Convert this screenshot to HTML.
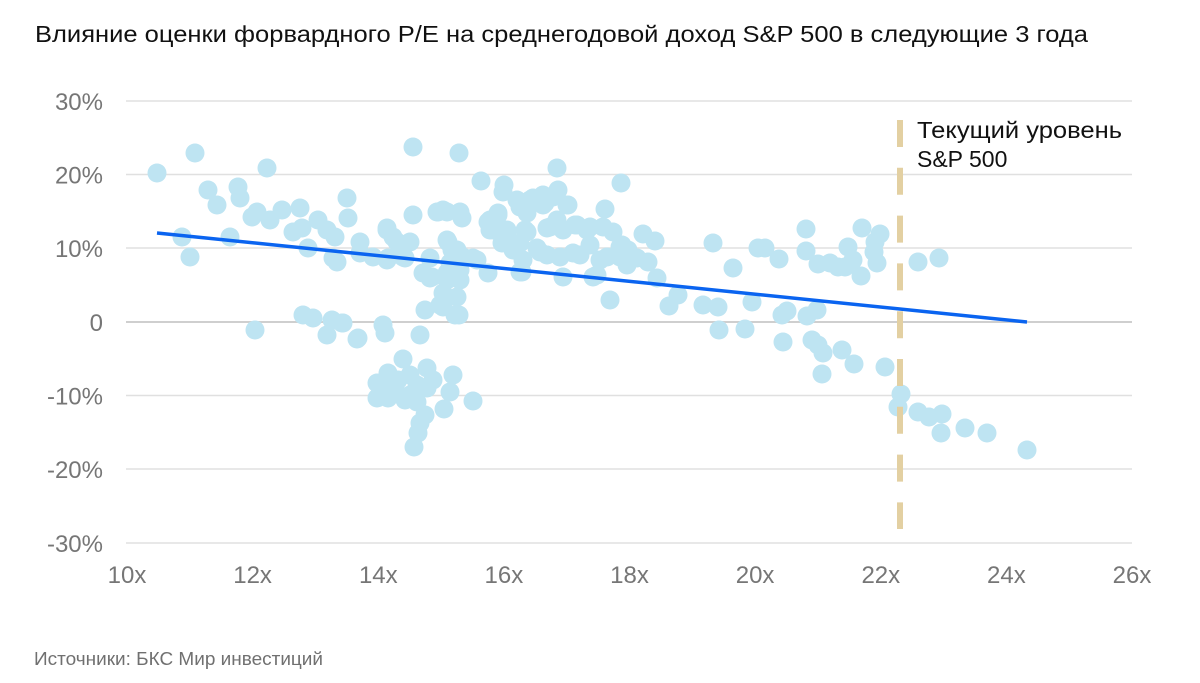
<!DOCTYPE html>
<html>
<head>
<meta charset="utf-8">
<style>
html,body{margin:0;padding:0;background:#fff;}
svg{display:block;}
text{font-family:"Liberation Sans","Noto Sans CJK SC",sans-serif;}
</style>
</head>
<body>
<svg width="1200" height="683" viewBox="0 0 1200 683" xmlns="http://www.w3.org/2000/svg">
<rect width="1200" height="683" fill="#fff"/>
<text x="35" y="42" font-size="23" fill="#111" textLength="1053" lengthAdjust="spacingAndGlyphs">Влияние оценки форвардного P/E на среднегодовой доход S&amp;P 500 в следующие 3 года</text>

<g stroke="#e0e0e0" stroke-width="1.5">
<line x1="126" y1="101" x2="1132" y2="101"/>
<line x1="126" y1="174.5" x2="1132" y2="174.5"/>
<line x1="126" y1="248" x2="1132" y2="248"/>
<line x1="126" y1="395.5" x2="1132" y2="395.5"/>
<line x1="126" y1="469" x2="1132" y2="469"/>
<line x1="126" y1="543" x2="1132" y2="543"/>
</g>
<line x1="126" y1="322" x2="1132" y2="322" stroke="#cfcfcf" stroke-width="2"/>

<g font-size="24" fill="#767676" text-anchor="end">
<text x="103" y="110">30%</text>
<text x="103" y="183.5">20%</text>
<text x="103" y="257">10%</text>
<text x="103" y="331">0</text>
<text x="103" y="404.5">-10%</text>
<text x="103" y="478">-20%</text>
<text x="103" y="552">-30%</text>
</g>
<g font-size="24" fill="#767676" text-anchor="middle">
<text x="127" y="583">10x</text>
<text x="252.6" y="583">12x</text>
<text x="378.3" y="583">14x</text>
<text x="503.9" y="583">16x</text>
<text x="629.5" y="583">18x</text>
<text x="755.1" y="583">20x</text>
<text x="880.8" y="583">22x</text>
<text x="1006.4" y="583">24x</text>
<text x="1132" y="583">26x</text>
</g>

<g fill="#bee4f2">
<circle cx="157" cy="173" r="9.5"/><circle cx="195" cy="153" r="9.5"/><circle cx="267" cy="168" r="9.5"/><circle cx="208" cy="190" r="9.5"/><circle cx="217" cy="205" r="9.5"/><circle cx="238" cy="187" r="9.5"/><circle cx="240" cy="198" r="9.5"/><circle cx="252" cy="217" r="9.5"/><circle cx="257" cy="212" r="9.5"/><circle cx="270" cy="220" r="9.5"/><circle cx="282" cy="210" r="9.5"/><circle cx="300" cy="208" r="9.5"/><circle cx="293" cy="232" r="9.5"/><circle cx="302" cy="228" r="9.5"/><circle cx="318" cy="220" r="9.5"/><circle cx="327" cy="230" r="9.5"/><circle cx="335" cy="237" r="9.5"/><circle cx="347" cy="198" r="9.5"/><circle cx="348" cy="218" r="9.5"/><circle cx="308" cy="248" r="9.5"/><circle cx="333" cy="258" r="9.5"/><circle cx="337" cy="262" r="9.5"/><circle cx="360" cy="242" r="9.5"/><circle cx="360" cy="253" r="9.5"/><circle cx="373" cy="257" r="9.5"/><circle cx="387" cy="230" r="9.5"/><circle cx="387" cy="260" r="9.5"/><circle cx="397" cy="242" r="9.5"/><circle cx="410" cy="242" r="9.5"/><circle cx="403" cy="257" r="9.5"/><circle cx="413" cy="215" r="9.5"/><circle cx="413" cy="147" r="9.5"/><circle cx="430" cy="258" r="9.5"/><circle cx="423" cy="273" r="9.5"/><circle cx="432" cy="277" r="9.5"/><circle cx="437" cy="212" r="9.5"/><circle cx="447" cy="212" r="9.5"/><circle cx="448" cy="242" r="9.5"/><circle cx="450" cy="263" r="9.5"/><circle cx="425" cy="310" r="9.5"/><circle cx="440" cy="305" r="9.5"/><circle cx="455" cy="315" r="9.5"/><circle cx="182" cy="237" r="9.5"/><circle cx="190" cy="257" r="9.5"/><circle cx="230" cy="237" r="9.5"/><circle cx="255" cy="330" r="9.5"/><circle cx="303" cy="315" r="9.5"/><circle cx="313" cy="318" r="9.5"/><circle cx="332" cy="320" r="9.5"/><circle cx="342" cy="323" r="9.5"/><circle cx="327" cy="335" r="9.5"/><circle cx="358" cy="338" r="9.5"/><circle cx="383" cy="325" r="9.5"/><circle cx="385" cy="333" r="9.5"/><circle cx="420" cy="335" r="9.5"/>
<circle cx="343" cy="323" r="9.5"/><circle cx="357" cy="339" r="9.5"/><circle cx="403" cy="359" r="9.5"/><circle cx="377" cy="383" r="9.5"/><circle cx="388" cy="373" r="9.5"/><circle cx="377" cy="398" r="9.5"/><circle cx="388" cy="398" r="9.5"/><circle cx="405" cy="400" r="9.5"/><circle cx="417" cy="402" r="9.5"/><circle cx="427" cy="368" r="9.5"/><circle cx="427" cy="388" r="9.5"/><circle cx="433" cy="380" r="9.5"/><circle cx="398" cy="380" r="9.5"/><circle cx="410" cy="375" r="9.5"/><circle cx="417" cy="385" r="9.5"/><circle cx="453" cy="375" r="9.5"/><circle cx="450" cy="392" r="9.5"/><circle cx="444" cy="409" r="9.5"/><circle cx="473" cy="401" r="9.5"/><circle cx="425" cy="415" r="9.5"/><circle cx="420" cy="423" r="9.5"/><circle cx="418" cy="433" r="9.5"/><circle cx="414" cy="447" r="9.5"/><circle cx="395" cy="390" r="9.5"/><circle cx="385" cy="385" r="9.5"/><circle cx="410" cy="395" r="9.5"/>
<circle cx="438" cy="212" r="9.5"/><circle cx="460" cy="213" r="9.5"/><circle cx="462" cy="218" r="9.5"/><circle cx="387" cy="228" r="9.5"/><circle cx="393" cy="237" r="9.5"/><circle cx="400" cy="245" r="9.5"/><circle cx="388" cy="258" r="9.5"/><circle cx="405" cy="258" r="9.5"/><circle cx="447" cy="240" r="9.5"/><circle cx="452" cy="250" r="9.5"/><circle cx="463" cy="257" r="9.5"/><circle cx="477" cy="260" r="9.5"/><circle cx="430" cy="278" r="9.5"/><circle cx="447" cy="273" r="9.5"/><circle cx="460" cy="280" r="9.5"/><circle cx="443" cy="293" r="9.5"/><circle cx="457" cy="297" r="9.5"/><circle cx="459" cy="315" r="9.5"/><circle cx="488" cy="273" r="9.5"/><circle cx="490" cy="220" r="9.5"/><circle cx="498" cy="215" r="9.5"/><circle cx="490" cy="230" r="9.5"/><circle cx="507" cy="233" r="9.5"/><circle cx="513" cy="250" r="9.5"/><circle cx="522" cy="272" r="9.5"/><circle cx="520" cy="207" r="9.5"/>
<circle cx="459" cy="153" r="9.5"/><circle cx="481" cy="181" r="9.5"/><circle cx="504" cy="185" r="9.5"/><circle cx="503" cy="192" r="9.5"/><circle cx="517" cy="200" r="9.5"/><circle cx="533" cy="198" r="9.5"/><circle cx="543" cy="195" r="9.5"/><circle cx="543" cy="205" r="9.5"/><circle cx="557" cy="168" r="9.5"/><circle cx="558" cy="190" r="9.5"/><circle cx="568" cy="205" r="9.5"/><circle cx="527" cy="213" r="9.5"/><circle cx="498" cy="213" r="9.5"/><circle cx="488" cy="222" r="9.5"/><circle cx="493" cy="230" r="9.5"/><circle cx="507" cy="230" r="9.5"/><circle cx="525" cy="230" r="9.5"/><circle cx="547" cy="228" r="9.5"/><circle cx="557" cy="220" r="9.5"/><circle cx="575" cy="225" r="9.5"/><circle cx="587" cy="230" r="9.5"/><circle cx="605" cy="209" r="9.5"/><circle cx="603" cy="227" r="9.5"/><circle cx="613" cy="232" r="9.5"/><circle cx="622" cy="245" r="9.5"/><circle cx="628" cy="250" r="9.5"/><circle cx="643" cy="234" r="9.5"/><circle cx="655" cy="241" r="9.5"/><circle cx="621" cy="183" r="9.5"/><circle cx="502" cy="243" r="9.5"/><circle cx="520" cy="243" r="9.5"/><circle cx="537" cy="248" r="9.5"/><circle cx="547" cy="255" r="9.5"/><circle cx="560" cy="257" r="9.5"/><circle cx="573" cy="253" r="9.5"/><circle cx="590" cy="245" r="9.5"/><circle cx="607" cy="257" r="9.5"/><circle cx="620" cy="257" r="9.5"/><circle cx="637" cy="258" r="9.5"/><circle cx="648" cy="262" r="9.5"/><circle cx="520" cy="272" r="9.5"/><circle cx="563" cy="277" r="9.5"/><circle cx="593" cy="277" r="9.5"/><circle cx="657" cy="278" r="9.5"/><circle cx="443" cy="210" r="9.5"/><circle cx="460" cy="212" r="9.5"/><circle cx="457" cy="250" r="9.5"/><circle cx="473" cy="258" r="9.5"/><circle cx="460" cy="270" r="9.5"/><circle cx="447" cy="280" r="9.5"/><circle cx="443" cy="307" r="9.5"/><circle cx="610" cy="300" r="9.5"/><circle cx="678" cy="295" r="9.5"/><circle cx="669" cy="306" r="9.5"/>
<circle cx="530" cy="200" r="9.5"/><circle cx="545" cy="203" r="9.5"/><circle cx="567" cy="205" r="9.5"/><circle cx="553" cy="197" r="9.5"/><circle cx="527" cy="232" r="9.5"/><circle cx="550" cy="227" r="9.5"/><circle cx="563" cy="230" r="9.5"/><circle cx="577" cy="225" r="9.5"/><circle cx="590" cy="227" r="9.5"/><circle cx="540" cy="252" r="9.5"/><circle cx="580" cy="255" r="9.5"/><circle cx="600" cy="260" r="9.5"/><circle cx="620" cy="247" r="9.5"/><circle cx="630" cy="257" r="9.5"/><circle cx="627" cy="265" r="9.5"/><circle cx="597" cy="275" r="9.5"/><circle cx="523" cy="260" r="9.5"/>
<circle cx="713" cy="243" r="9.5"/><circle cx="733" cy="268" r="9.5"/><circle cx="758" cy="248" r="9.5"/><circle cx="765" cy="248" r="9.5"/><circle cx="779" cy="259" r="9.5"/><circle cx="806" cy="229" r="9.5"/><circle cx="806" cy="251" r="9.5"/><circle cx="818" cy="264" r="9.5"/><circle cx="830" cy="263" r="9.5"/><circle cx="838" cy="267" r="9.5"/><circle cx="845" cy="267" r="9.5"/><circle cx="848" cy="247" r="9.5"/><circle cx="853" cy="260" r="9.5"/><circle cx="861" cy="276" r="9.5"/><circle cx="862" cy="228" r="9.5"/><circle cx="880" cy="234" r="9.5"/><circle cx="875" cy="242" r="9.5"/><circle cx="874" cy="252" r="9.5"/><circle cx="877" cy="263" r="9.5"/><circle cx="918" cy="262" r="9.5"/><circle cx="939" cy="258" r="9.5"/><circle cx="703" cy="305" r="9.5"/><circle cx="718" cy="307" r="9.5"/><circle cx="719" cy="330" r="9.5"/><circle cx="752" cy="302" r="9.5"/><circle cx="745" cy="329" r="9.5"/><circle cx="782" cy="315" r="9.5"/><circle cx="787" cy="311" r="9.5"/><circle cx="807" cy="316" r="9.5"/><circle cx="817" cy="310" r="9.5"/><circle cx="783" cy="342" r="9.5"/><circle cx="812" cy="340" r="9.5"/><circle cx="818" cy="345" r="9.5"/><circle cx="823" cy="353" r="9.5"/><circle cx="842" cy="350" r="9.5"/><circle cx="854" cy="364" r="9.5"/><circle cx="822" cy="374" r="9.5"/><circle cx="885" cy="367" r="9.5"/><circle cx="901" cy="394" r="9.5"/><circle cx="898" cy="407" r="9.5"/><circle cx="918" cy="412" r="9.5"/><circle cx="929" cy="417" r="9.5"/><circle cx="942" cy="414" r="9.5"/><circle cx="941" cy="433" r="9.5"/><circle cx="965" cy="428" r="9.5"/><circle cx="987" cy="433" r="9.5"/><circle cx="1027" cy="450" r="9.5"/>
</g>

<line x1="157" y1="233" x2="1027" y2="322" stroke="#0a64f0" stroke-width="3.5"/>
<line x1="900" y1="120" x2="900" y2="529" stroke="#e3d0a2" stroke-width="6" stroke-dasharray="27 20.8"/>

<text x="917" y="138" font-size="23" fill="#111" textLength="205" lengthAdjust="spacingAndGlyphs">Текущий уровень</text>
<text x="917" y="167" font-size="23" fill="#111">S&amp;P 500</text>

<text x="34" y="665" font-size="18" fill="#707070" textLength="289" lengthAdjust="spacingAndGlyphs">Источники: БКС Мир инвестиций</text>
</svg>
</body>
</html>
